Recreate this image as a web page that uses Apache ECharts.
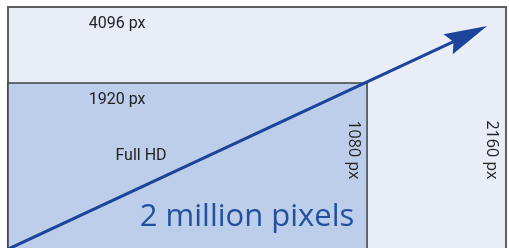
<!DOCTYPE html>
<html>
<head>
<meta charset="utf-8">
<script src="https://cdn.jsdelivr.net/npm/echarts@6/dist/echarts.min.js"></script>
<style>
  html, body { margin: 0; padding: 0; background: #ffffff; }
  #main { width: 509px; height: 248px; }
</style>
</head>
<body>
<div id="main"></div>
<script>
// boxes in diagram units: [x0, y0, x1, y1]
const boxNames = ['4K UHD', 'Full HD'];
const boxX0 = [0, 0];
const boxY0 = [-5, -5];
const boxX1 = [100, 72.1];
const boxY1 = [100, 68.5];

// diagonal arrow
const arrowFrom = [0, -0.5];
const arrowTo = [96.2, 92.1];

// labels
const labelTexts = ['4096 px', '1920 px', 'Full HD', '1080 px', '2160 px', '2 million pixels'];
const labelX = [21.9, 21.9, 26.7, 69.3, 97.2, 48.0];
const labelY = [92.9, 61.4, 38.2, 40.7, 40.7, 12.6];

const myChart = echarts.init(document.getElementById('main'));

const boxStyles = [
    { fill: '#e9edf8', stroke: '#5f5f5f', lineWidth: 2 },
    { fill: '#bccee9', stroke: '#3c414a', lineWidth: 1.5 }
];

const labelStyles = [
    { font: '16px Roboto', fill: '#222222', rot: 0 },
    { font: '16px Roboto', fill: '#222222', rot: 0 },
    { font: '16px Roboto', fill: '#222222', rot: 0 },
    { font: '16px "Open Sans"', fill: '#222222', rot: -Math.PI / 2 },
    { font: '16px "Open Sans"', fill: '#222222', rot: -Math.PI / 2 },
    { font: '31px "Open Sans"', fill: '#22509f', rot: 0 }
];

const boxData = boxNames.map((n, i) => [boxX0[i], boxY0[i], boxX1[i], boxY1[i]]);
const labelData = labelTexts.map((t, i) => [labelX[i], labelY[i], t]);
const arrowData = [[arrowFrom[0], arrowFrom[1], arrowTo[0], arrowTo[1]]];

let option = {
    animation: false,
    grid: { left: 8, right: 3, top: 7, bottom: 0 },
    xAxis: { type: 'value', min: 0, max: 100, show: false },
    yAxis: { type: 'value', min: 0, max: 100, show: false },
    series: [
        {
            type: 'custom',
            renderItem: function (params, api) {
                const p0 = api.coord([api.value(0), api.value(3)]);
                const p1 = api.coord([api.value(2), api.value(1)]);
                const s = boxStyles[params.dataIndex];
                return {
                    type: 'rect',
                    shape: { x: p0[0], y: p0[1], width: p1[0] - p0[0], height: p1[1] - p0[1] },
                    style: { fill: s.fill, stroke: s.stroke, lineWidth: s.lineWidth }
                };
            },
            data: boxData,
            z: 1
        },
        {
            // arrow: shaft + notched head
            type: 'custom',
            renderItem: function (params, api) {
                const a = api.coord([api.value(0), api.value(1)]);
                const b = api.coord([api.value(2), api.value(3)]);
                const dx = b[0] - a[0], dy = b[1] - a[1];
                const len = Math.sqrt(dx * dx + dy * dy);
                const ux = dx / len, uy = dy / len;
                const nx = -uy, ny = ux;
                const headLen = 43, halfW = 11, notch = 37;
                const base = [b[0] - ux * headLen, b[1] - uy * headLen];
                const mid = [b[0] - ux * notch, b[1] - uy * notch];
                return {
                    type: 'group',
                    children: [
                        {
                            type: 'line',
                            shape: { x1: a[0], y1: a[1], x2: mid[0], y2: mid[1] },
                            style: { stroke: '#1c449b', lineWidth: 3 }
                        },
                        {
                            type: 'polygon',
                            shape: {
                                points: [
                                    b,
                                    [base[0] + nx * halfW, base[1] + ny * halfW],
                                    mid,
                                    [base[0] - nx * halfW, base[1] - ny * halfW]
                                ]
                            },
                            style: { fill: '#1c449b' }
                        }
                    ]
                };
            },
            data: arrowData,
            z: 3
        },
        {
            type: 'custom',
            renderItem: function (params, api) {
                const p = api.coord([api.value(0), api.value(1)]);
                const s = labelStyles[params.dataIndex];
                return {
                    type: 'text',
                    x: p[0],
                    y: p[1],
                    rotation: s.rot,
                    style: {
                        text: labelTexts[params.dataIndex],
                        font: s.font,
                        fill: s.fill,
                        align: 'center',
                        verticalAlign: 'middle'
                    }
                };
            },
            data: labelData,
            z: 4
        }
    ]
};

option && myChart.setOption(option);
</script>
</body>
</html>
